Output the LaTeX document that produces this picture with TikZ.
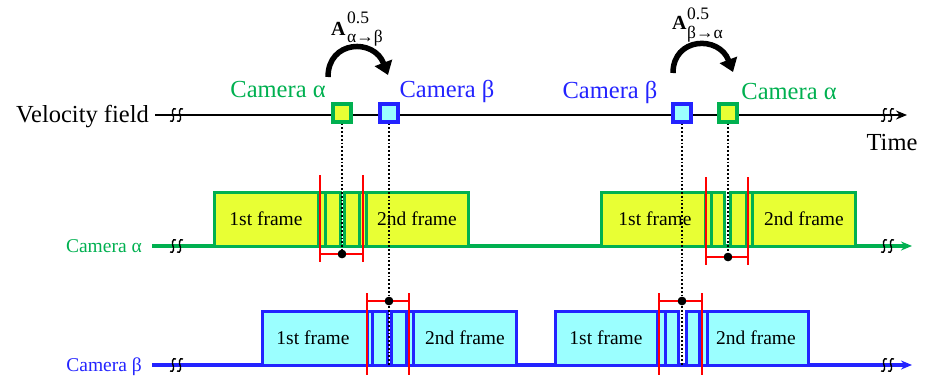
\documentclass[tikz,border=0pt]{standalone}
\usepackage{fontspec}
\setmainfont{Liberation Serif}
\usetikzlibrary{arrows.meta, positioning}

\definecolor{camgreen}{RGB}{0,176,80}
\definecolor{camblue}{RGB}{35,35,255}
\definecolor{frameyellow}{RGB}{232,255,52}
\definecolor{framecyan}{RGB}{155,255,255}

\tikzset{
  biglabel/.style={font=\fontsize{24.5}{28}\selectfont, inner sep=0pt},
  smalllabel/.style={font=\fontsize{19.5}{22}\selectfont, inner sep=0pt},
  scriptlabel/.style={font=\fontsize{17.5}{20}\selectfont, inner sep=0pt, anchor=base west},
  axisline/.style={line width=2.8pt, -{Stealth[length=11pt,width=9pt]}},
  marksq/.style={draw, line width=3.2pt, minimum size=18pt, inner sep=0pt},
  framebox/.style={line width=3pt},
  window/.style={red, line width=1.8pt},
  sample/.style={circle, fill=black, inner sep=0pt, minimum size=8.5pt},
  link/.style={dotted, line width=1.8pt},
  turn/.style={line width=5.5pt, -{Triangle[length=13pt,width=18pt]}},
  brk/.pic={
    \draw[line width=1.4pt] (3,-6) .. controls (-1,-8) and (-1,-2) .. (0,0)
      .. controls (1,2) and (1,8) .. (-3,6);
  },
}

\begin{document}
\begin{tikzpicture}[x=1pt, y=-1pt]
  \useasboundingbox (0,0) rectangle (933,375);

  % time axes
  \node[biglabel, anchor=base east] (vlabel) at (149,122) {Velocity field};
  \node[biglabel, anchor=base] (tlabel) at (892,150) {Time};
  \node[smalllabel, camgreen, anchor=base east] (alabel) at (142,252) {Camera α};
  \node[smalllabel, camblue, anchor=base east] (blabel) at (142,371) {Camera β};
  \coordinate (vs) at (155,115);  \coordinate (ve) at (907,115);
  \coordinate (as) at (152,246);  \coordinate (ae) at (912,246);
  \coordinate (bs) at (152,365);  \coordinate (be) at (912,365);
  \draw[axisline] (vs) -- (ve);
  \draw[axisline, camgreen, line width=3.2pt] (as) -- (ae);
  \draw[axisline, camblue, line width=3.2pt] (bs) -- (be);
  \foreach \y in {115,246,365} {
    \pic at (173,\y) {brk};  \pic at (180,\y) {brk};
    \pic at (884,\y) {brk};  \pic at (891,\y) {brk};
  }

  % camera alpha frames
  \foreach \a/\b in {214/318, 318/325, 325/340, 344/359, 359/366, 366/468,
                     601/705, 705/711, 711/724, 730/746, 746/752, 752/855}
    \draw[framebox, camgreen, fill=frameyellow] (\a,192) rectangle (\b,246);
  \node[smalllabel] (fa1) at (266,219) {1st frame};
  \node[smalllabel] (fa2) at (417,219) {2nd frame};
  \node[smalllabel] (fa3) at (655,219) {1st frame};
  \node[smalllabel] (fa4) at (804,219) {2nd frame};

  % camera beta frames
  \foreach \a/\b in {262/367, 367/372, 372/387, 391/406, 406/413, 413/516,
                     555/657, 657/665, 665/678, 686/699, 699/707, 707/808}
    \draw[framebox, camblue, fill=framecyan] (\a,311) rectangle (\b,365);
  \node[smalllabel] (fb1) at (313,338) {1st frame};
  \node[smalllabel] (fb2) at (465,338) {2nd frame};
  \node[smalllabel] (fb3) at (606,338) {1st frame};
  \node[smalllabel] (fb4) at (756,338) {2nd frame};

  % samples on the velocity field
  \node[marksq, camgreen, fill=frameyellow] (sqA1) at (342,113) {};
  \node[marksq, camblue, fill=framecyan] (sqB1) at (389,113) {};
  \node[marksq, camblue, fill=framecyan] (sqB2) at (682,113) {};
  \node[marksq, camgreen, fill=frameyellow] (sqA2) at (728,113) {};
  \node[biglabel, camgreen, anchor=base] (cA1) at (278,97) {Camera α};
  \node[biglabel, camblue, anchor=base] (cB1) at (447,97) {Camera β};
  \node[biglabel, camblue, anchor=base] (cB2) at (610,98) {Camera β};
  \node[biglabel, camgreen, anchor=base] (cA2) at (789,99) {Camera α};

  % exposure windows
  \node[sample] (dA1) at (342,254) {};
  \node[sample] (dB1) at (389,301) {};
  \node[sample] (dB2) at (682,301) {};
  \node[sample] (dA2) at (728,257) {};
  \draw[link] (sqA1.south) -- (dA1);
  \draw[link] (sqB1.south) -- (sqB1.south |- bs);
  \draw[link] (sqB2.south) -- (sqB2.south |- bs);
  \draw[link] (sqA2.south) -- (dA2);
  \draw[window] (320,175) -- (320,262) (363,175) -- (363,262) (320,254) -- (363,254);
  \draw[window] (706,177) -- (706,265) (748,177) -- (748,265) (706,257) -- (748,257);
  \draw[window] (367,293) -- (367,375) (409,293) -- (409,375) (367,301) -- (409,301);
  \draw[window] (659,293) -- (659,375) (702,293) -- (702,375) (659,301) -- (702,301);
  \foreach \n in {dA1,dB1,dB2,dA2}
    \fill (\n) circle (4.2pt);

  % transfer arrows
  \draw[turn] (328,77) .. controls (328,40) and (374,38) .. (388,75);
  \draw[turn] (673,73) .. controls (673,37) and (719,35) .. (733,72);
  \node[font=\fontsize{20}{22}\selectfont\bfseries, inner sep=0pt, anchor=base west]
    (tAB) at (331,35) {A};
  \node[scriptlabel] (tABsup) at (347,23) {0.5};
  \node[scriptlabel] (tABsub) at (347,42) {α→β};
  \node[font=\fontsize{20}{22}\selectfont\bfseries, inner sep=0pt, anchor=base west]
    (tBA) at (672,29) {A};
  \node[scriptlabel] (tBAsup) at (687,19) {0.5};
  \node[scriptlabel] (tBAsub) at (687,38) {β→α};
\end{tikzpicture}
\end{document}
